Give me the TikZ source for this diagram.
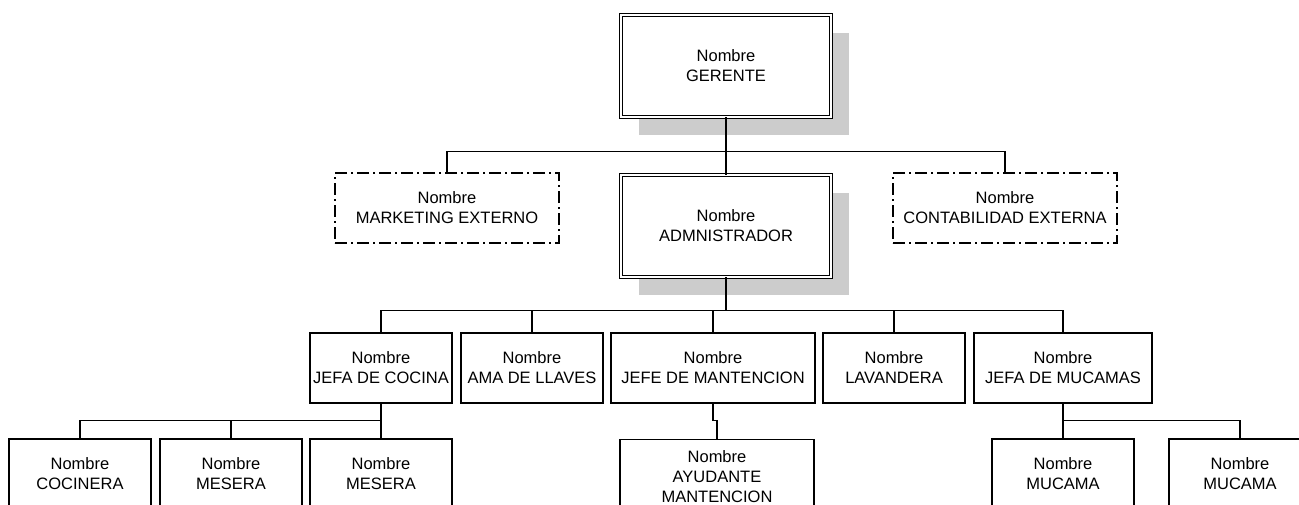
\documentclass[tikz,border=0pt]{standalone}
\usepackage{fontspec}
\setmainfont{Liberation Sans}
\usetikzlibrary{shadows}
\definecolor{sombra}{RGB}{204,204,204}

\begin{document}
\begin{tikzpicture}[x=1pt,y=-1pt,
    caja/.style={draw,line width=1.2pt,minimum width=142pt,minimum height=70pt,
        inner sep=0pt,align=center,font=\fontsize{16.5}{20}\selectfont},
    jefe/.style={caja,fill=white,double,line width=0.9pt,double distance=2pt,
        minimum width=210pt,minimum height=102pt,
        general shadow={fill=sombra,shadow xshift=18pt,shadow yshift=-18pt}},
    externo/.style={caja,line width=1.6pt,dash pattern=on 12pt off 4pt on 2pt off 4pt,
        minimum width=224pt},
    linea/.style={line width=1.2pt}]
\useasboundingbox (0,0) rectangle (1299,504);
\clip (0,0) rectangle (1299,504);
%\fill[white] (0,0) rectangle (1299,504);

    \node[jefe] (ger) at (726,66) {Nombre\\GERENTE};
    \node[externo] (mkt) at (447,208) {Nombre\\MARKETING EXTERNO};
    \node[jefe] (adm) at (726,226) {Nombre\\ADMNISTRADOR};
    \node[externo] (cont) at (1005,208) {Nombre\\CONTABILIDAD EXTERNA};

\node[caja] (coc) at (381,368) {Nombre\\JEFA DE COCINA};
\node[caja] (ama) at (532,368) {Nombre\\AMA DE LLAVES};
\node[caja,minimum width=204pt] (mant) at (713,368) {Nombre\\JEFE DE MANTENCION};
\node[caja] (lav) at (894,368) {Nombre\\LAVANDERA};
\node[caja,minimum width=178pt] (muc) at (1063,368) {Nombre\\JEFA DE MUCAMAS};

\node[caja] (cn) at (80,474) {Nombre\\COCINERA};
\node[caja] (ms1) at (231,474) {Nombre\\MESERA};
\node[caja] (ms2) at (381,474) {Nombre\\MESERA};
\node[caja,minimum width=194pt,minimum height=74pt,anchor=north] (ayu) at (717,439) {Nombre\\AYUDANTE\\MANTENCION};
\node[caja] (mc1) at (1063,474) {Nombre\\MUCAMA};
\node[caja] (mc2) at (1240,474) {Nombre\\MUCAMA};

% gerencia
\draw[linea] (ger) to (adm);
\draw[linea] (mkt.north) -- ++(0,-21) -| (cont.north);

% administracion
\coordinate (b2) at (726,311);
\draw[linea] (adm.south) to (b2);
\draw[linea] (coc.north) -- ++(0,-22) -| (muc.north);
\foreach \n in {ama,mant,lav}
    \draw[linea] (\n.north) -- ++(0,-22);

% cocina, mantencion, mucamas
\draw[linea] (coc.south) -- ++(0,18);
\draw[linea] (cn.north) -- ++(0,-18) -| (ms2.north);
\draw[linea] (ms1.north) -- ++(0,-18);
\draw[linea] (mant.south) -- ++(0,17) -| (ayu.north);
\draw[linea] (muc.south) -- ++(0,18);
\draw[linea] (mc1.north) -- ++(0,-18) -| (mc2.north);

\end{tikzpicture}
\end{document}
